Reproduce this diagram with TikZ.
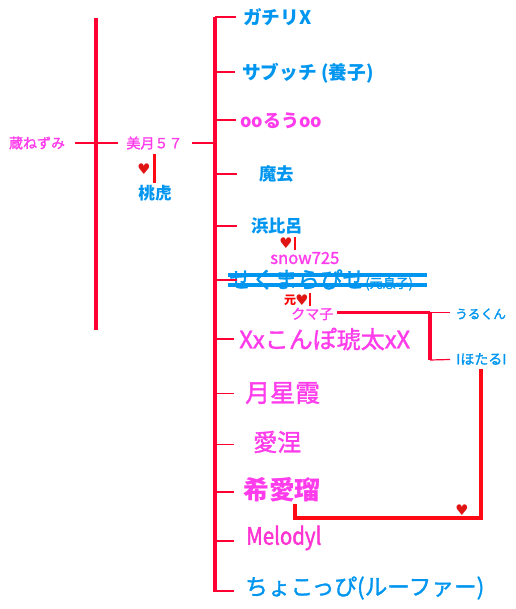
\documentclass[tikz,border=0pt]{standalone}
\usepackage{fontspec}
\setmainfont{Noto Sans CJK JP}
\newfontfamily\medfont[FakeBold=1.5]{Noto Sans CJK JP}
\newfontfamily\narrowfont[FakeStretch=0.85,FakeBold=1.5]{Noto Sans CJK JP}
\newfontfamily\symfont{DejaVu Sans}
\usetikzlibrary{positioning, calc}
\definecolor{linered}{RGB}{255,0,50}
\definecolor{pairred}{RGB}{255,10,20}
\definecolor{heartred}{RGB}{225,20,20}
\definecolor{namepink}{RGB}{255,60,235}
\definecolor{melopink}{RGB}{255,50,210}
\definecolor{nameblue}{RGB}{0,150,240}
\newcommand{\hrt}{{\symfont ♥}}

\begin{document}
\begin{tikzpicture}[
  x=0.75pt, y=-0.75pt,
  pink/.style={text=namepink, inner sep=0pt, font=\medfont\fontsize{10.5pt}{12pt}\selectfont},
  blue/.style={text=nameblue, inner sep=0pt, font=\medfont\fontsize{10.5pt}{12pt}\selectfont},
  big/.style={inner sep=0pt, font=\medfont\fontsize{18pt}{20pt}\selectfont},
  mid/.style={inner sep=0pt, font=\fontsize{14pt}{16pt}\bfseries\selectfont},
  trunk/.style={draw=linered, line width=3pt},
  brk/.style={draw=linered, line width=1.6pt},
  twig/.style={draw=linered, line width=0.9pt},
  pair/.style={draw=pairred, line width=2.6pt},
  heart/.style={text=heartred, inner sep=0pt, font=\fontsize{11pt}{12pt}\selectfont}
]
\useasboundingbox (0,0) rectangle (516,609);

% --- first generation, left ---
\coordinate (t1a) at (96,18);
\coordinate (t1b) at (96,330);
\draw[trunk] (t1a) -- (t1b);
\node[pink] (kura) at (37,143) {蔵ねずみ};
\node[pink] (mizuki) at (154.5,143) {美月５７};
\draw[brk, shorten <=7.5pt, shorten >=6pt] (kura.east) -- (mizuki.west);

\node[heart] (h1) at (144,169) {\hrt};
\node[blue, font=\fontsize{12.5pt}{14pt}\bfseries\selectfont] (momo) at (155,193) {桃虎};
\coordinate (p1a) at (154.5,154);
\coordinate (p1b) at (154.5,183);
\draw[pair] (p1a) -- (p1b);

% --- second generation trunk ---
\coordinate (t2a) at (214.5,17);
\coordinate (t2b) at (214.5,592);
\draw[trunk] (t2a) -- (t2b);
\draw[brk, shorten <=7pt] (mizuki.east) -- (mizuki.east -| t2a);

% --- children ---
\node[blue, mid, anchor=west] (gachi) at (243,17) {ガチリX};
\node[blue, mid, anchor=west] (sabu) at (242,73) {サブッチ (養子)};
\node[pink, mid, font=\fontsize{13.5pt}{16pt}\bfseries\selectfont, anchor=west] (rou) at (240,121) {ooるうoo};
\node[blue, font=\fontsize{13pt}{14pt}\bfseries\selectfont, anchor=west] (mako) at (259,174) {魔去};
\node[blue, font=\fontsize{13pt}{14pt}\bfseries\selectfont, anchor=west] (hama) at (251,226) {浜比呂};
\node[heart] (h2) at (286,243) {\hrt};
\node[pink, font=\medfont\fontsize{12.5pt}{14pt}\selectfont, anchor=west] (snow) at (270,258) {snow725};
\node[blue, font=\medfont\fontsize{17pt}{18pt}\selectfont, anchor=west] (seku) at (229,280) {せくまらぴせ{\fontsize{9.75pt}{10pt}\selectfont(元息子)}};
\node[text=red, inner sep=0pt, font=\fontsize{9pt}{10pt}\bfseries\selectfont] (moto) at (290,300) {元};
\node[heart] (h3) at (302,300) {\hrt};
\node[pink, anchor=west] (kuma) at (291,314) {クマ子};
\node[pink, big, anchor=west] (kohaku) at (239,339) {Xxこんぽ琥太xX};
\node[pink, big, font=\medfont\fontsize{18.7pt}{20pt}\selectfont, anchor=west] (kasumi) at (245,393) {月星霞};
\node[pink, big, anchor=west] (aine) at (253,442) {愛涅};
\node[pink, big, font=\fontsize{19.3pt}{22pt}\bfseries\selectfont, anchor=west] (kiara) at (243,490) {希愛瑠};
\node[text=melopink, inner sep=0pt, font=\narrowfont\fontsize{18pt}{20pt}\selectfont, anchor=west] (melo) at (246,538) {Melodyl};
\node[blue, font=\medfont\fontsize{17pt}{20pt}\selectfont, anchor=west] (choko) at (245,588) {ちょこっぴ(ルーファー)};

% branches off the trunk
\coordinate (b1) at (236,17);
\coordinate (b2) at (235,72);
\coordinate (b3) at (236,120);
\coordinate (b4) at (237,174);
\coordinate (b5) at (237,226);
\coordinate (b6) at (237,280);
\coordinate (b7) at (234,339);
\coordinate (b8) at (234,393.5);
\coordinate (b9) at (234,444.5);
\coordinate (b10) at (234,492);
\coordinate (b11) at (234,541);
\coordinate (b12) at (234,591);
\foreach \b in {b1,b3,b4,b5,b6} \draw[brk] (\b -| t2a) -- (\b);
\foreach \b in {b2,b7,b8,b9,b10,b11,b12} \draw[twig] (\b -| t2a) -- (\b);

% strike through
\coordinate (s1a) at (228,275);
\coordinate (s1b) at (427,275);
\coordinate (s2a) at (228,285);
\coordinate (s2b) at (427,285);
\draw[draw=nameblue, line width=2.6pt] (s1a) -- (s1b);
\draw[draw=nameblue, line width=2.6pt] (s2a) -- (s2b);

% couples
\coordinate (p2a) at (295,237);
\coordinate (p2b) at (295,250);
\draw[draw=pairred, line width=1.1pt] (p2a) -- (p2b);
\coordinate (p3a) at (310,293);
\coordinate (p3b) at (310,306);
\draw[draw=pairred, line width=1.1pt] (p3a) -- (p3b);

% --- kuma's children ---
\node[blue, font=\medfont\fontsize{9.5pt}{12pt}\selectfont, anchor=west] (uru) at (455,314) {うるくん};
\node[blue, font=\medfont\fontsize{10.5pt}{12pt}\selectfont, anchor=west] (hota) at (456,359) {IほたるI};
\coordinate (k1) at (430,312.5);
\coordinate (k2) at (430,360);
\coordinate (k1e) at (450,312.5);
\coordinate (k2e) at (450,359.5);
\draw[brk] (kuma.east |- k1) ++(3,0) -- (k1);
\draw[trunk] (k1) -- (k2);
\draw[twig] (k1) -- (k1e);
\draw[twig] (k2) -- (k2e);

% --- long link hotaru to kiara ---
\coordinate (l1) at (481,369);
\coordinate (l2) at (295,504);
\draw[pair, line width=3pt] (l1) -- (l1 |- 0,518) -- (l2 |- 0,518) -- (l2);
\node[heart] (h4) at (462,510) {\hrt};
\end{tikzpicture}
\end{document}
